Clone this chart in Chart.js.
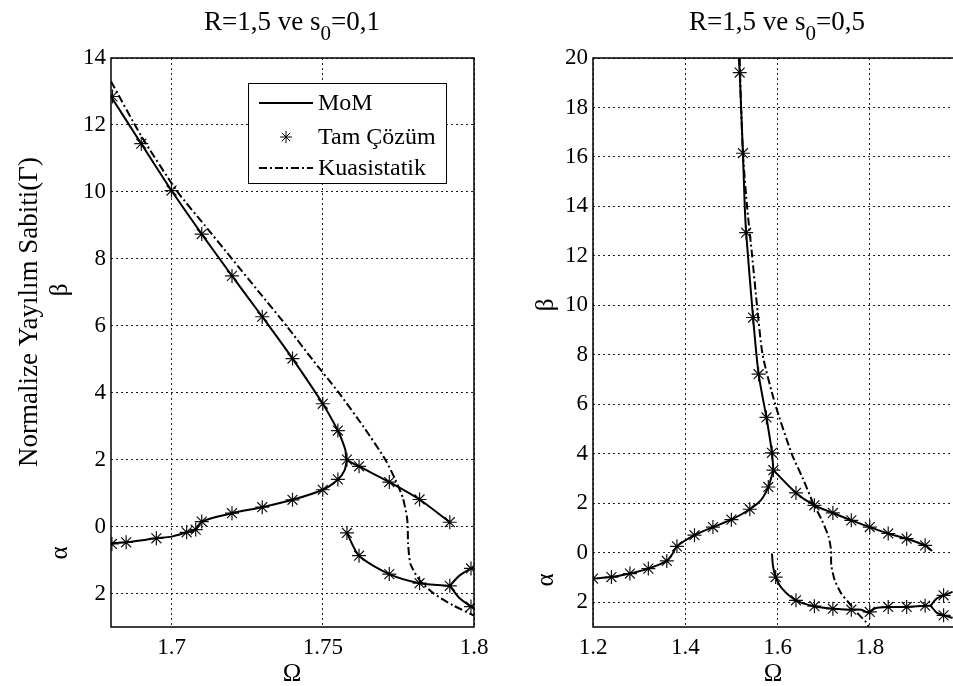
<!DOCTYPE html>
<html><head><meta charset="utf-8">
<script src="https://cdn.jsdelivr.net/npm/chart.js@4.4.1/dist/chart.umd.min.js"></script>
<style>
html,body{margin:0;padding:0;background:#fff;overflow:hidden;width:953px;height:686px;position:relative;}
.wrap{position:absolute;top:0;height:686px;}
</style></head><body>
<div class="wrap" style="left:0;width:490px"><canvas id="c1"></canvas></div>
<div class="wrap" style="left:490px;width:471px"><canvas id="c2"></canvas></div>
<script>
// ---------- Left panel: R=1,5 ve s0=0,1 ----------
const leftXTicks = [1.7, 1.75, 1.8];
const leftYTicks = [-2, 0, 2, 4, 6, 8, 10, 12, 14];
const leftMomBeta = [[1.680,12.85],[1.690,11.44],[1.700,10.04],[1.710,8.74],[1.720,7.49],[1.730,6.27],[1.740,5.02],[1.750,3.67],[1.755,2.87],[1.7564,2.57],[1.7575,2.28],[1.758,2.0],[1.762,1.80],[1.772,1.33],[1.782,0.81],[1.792,0.13]];
const leftMomAlpha = [[1.680,-0.50],[1.685,-0.47],[1.695,-0.35],[1.700,-0.30],[1.705,-0.17],[1.708,-0.09],[1.710,0.15],[1.720,0.40],[1.730,0.58],[1.740,0.80],[1.750,1.10],[1.755,1.41],[1.7572,1.68],[1.758,2.0]];
const leftMomLower = [[1.758,-0.19],[1.762,-0.87],[1.772,-1.42],[1.782,-1.69],[1.792,-1.77]];
const leftMomSplitUp = [[1.792,-1.77],[1.795,-1.48],[1.799,-1.25],[1.800,-1.22]];
const leftMomSplitDown = [[1.792,-1.77],[1.795,-2.12],[1.799,-2.39],[1.800,-2.42]];
const leftExact = [[1.6805,12.85],[1.690,11.44],[1.700,10.04],[1.710,8.74],[1.720,7.49],[1.730,6.27],[1.740,5.02],[1.750,3.67],[1.755,2.87],[1.758,2.0],[1.762,1.80],[1.772,1.33],[1.782,0.81],[1.792,0.13],
  [1.6803,-0.52],[1.685,-0.47],[1.695,-0.35],[1.705,-0.17],[1.708,-0.09],[1.710,0.15],[1.720,0.40],[1.730,0.58],[1.740,0.80],[1.750,1.10],[1.755,1.41],
  [1.758,-0.19],[1.762,-0.87],[1.772,-1.42],[1.782,-1.69],[1.792,-1.77],[1.799,-1.25],[1.799,-2.39]];
const leftQuasi = [[1.680,13.30],[1.690,11.67],[1.702,10.0],[1.711,9.0],[1.720,8.0],[1.729,7.0],[1.738,6.0],[1.7465,5.0],[1.7553,4.0],[1.7635,2.98],[1.7707,2.0],[1.774,1.40],[1.7765,0.85],[1.7778,0.30],[1.7781,0.0],[1.7782,-0.5],[1.779,-1.12],[1.782,-1.60],[1.7867,-2.0],[1.793,-2.35],[1.800,-2.66]];

// ---------- Right panel: R=1,5 ve s0=0,5 ----------
const rightXTicks = [1.2, 1.4, 1.6, 1.8];
const rightYTicks = [-2, 0, 2, 4, 6, 8, 10, 12, 14, 16, 18, 20];
const rightMomBeta = [[1.516,20.0],[1.518,19.41],[1.525,16.15],[1.529,14.0],[1.532,12.94],[1.547,9.51],[1.559,7.22],[1.576,5.47],[1.588,4.04],[1.591,3.34]];
const rightMomAlpha = [[1.200,-1.04],[1.240,-0.98],[1.280,-0.84],[1.320,-0.64],[1.360,-0.33],[1.372,-0.05],[1.382,0.26],[1.420,0.71],[1.460,1.04],[1.500,1.34],[1.540,1.76],[1.565,2.15],[1.580,2.66],[1.591,3.34]];
const rightMomRight = [[1.591,3.34],[1.640,2.42],[1.680,1.92],[1.720,1.61],[1.760,1.31],[1.800,1.04],[1.840,0.78],[1.880,0.57],[1.920,0.30],[1.935,0.07]];
const rightMomLower = [[1.588,-0.03],[1.590,-0.5],[1.596,-0.98],[1.610,-1.45],[1.640,-1.92],[1.680,-2.16],[1.720,-2.26],[1.760,-2.30],[1.782,-2.30],[1.797,-2.42],[1.812,-2.24],[1.840,-2.19],[1.880,-2.19],[1.920,-2.14],[1.932,-2.14]];
const rightMomSplitUp = [[1.932,-2.14],[1.945,-1.85],[1.960,-1.72],[1.980,-1.58]];
const rightMomSplitDown = [[1.932,-2.14],[1.945,-2.42],[1.960,-2.53],[1.980,-2.63]];
const rightExact = [[1.518,19.41],[1.525,16.15],[1.532,12.94],[1.547,9.51],[1.559,7.22],[1.576,5.47],[1.588,4.04],[1.591,3.34],
  [1.200,-1.04],[1.240,-0.98],[1.280,-0.84],[1.320,-0.64],[1.360,-0.33],[1.382,0.26],[1.420,0.71],[1.460,1.04],[1.500,1.34],[1.540,1.76],[1.580,2.66],
  [1.640,2.42],[1.680,1.92],[1.720,1.61],[1.760,1.31],[1.800,1.04],[1.840,0.78],[1.880,0.57],[1.920,0.30],
  [1.596,-0.98],[1.640,-1.92],[1.680,-2.16],[1.720,-2.26],[1.760,-2.30],[1.800,-2.39],[1.840,-2.19],[1.880,-2.19],[1.920,-2.14],[1.960,-1.72],[1.960,-2.53]];
const rightQuasi = [[1.518,20.0],[1.521,18.0],[1.5254,16.0],[1.534,14.0],[1.545,12.0],[1.5555,10.0],[1.5677,8.0],[1.595,6.0],[1.6308,4.0],[1.655,3.0],[1.6774,2.0],[1.6964,1.31],[1.711,0.64],[1.716,0.10],[1.7165,-0.50],[1.724,-1.11],[1.7383,-1.65],[1.7563,-2.06],[1.7742,-2.46],[1.792,-2.80],[1.798,-3.0]];

const legendLabels = ['MoM', 'Tam Çözüm', 'Kuasistatik'];

const FONT = '"Liberation Serif", "Times New Roman", serif';
const pts = a => a.map(p => ({x: p[0], y: p[1]}));
const solid = d => ({data: pts(d), showLine: true, borderColor: '#000', borderWidth: 2, pointRadius: 0, tension: 0.25, fill: false});
const dashdot = d => ({data: pts(d), showLine: true, borderColor: '#000', borderWidth: 2, borderDash: [8, 3, 2, 3], pointRadius: 0, tension: 0.2, fill: false});
const stars = d => ({data: pts(d), showLine: false, pointStyle: 'star', pointRadius: 7, borderColor: '#111', pointBorderWidth: 1.2, borderWidth: 1.2, backgroundColor: '#000'});

function drawSubTitle(ctx, cx, baseY, a, sub, b) {
  const big = '27px ' + FONT, small = '21px ' + FONT;
  ctx.font = big; const wa = ctx.measureText(a).width;
  ctx.font = small; const ws = ctx.measureText(sub).width;
  ctx.font = big; const wb = ctx.measureText(b).width;
  let x = cx - (wa + ws + wb) / 2;
  ctx.textAlign = 'left'; ctx.textBaseline = 'alphabetic';
  ctx.fillText(a, x, baseY); x += wa;
  ctx.font = small; ctx.fillText(sub, x, baseY + 10); x += ws;
  ctx.font = big; ctx.fillText(b, x, baseY);
}
function rotText(ctx, txt, x, y, size) {
  ctx.save(); ctx.translate(x, y); ctx.rotate(-Math.PI / 2);
  ctx.font = size + 'px ' + FONT; ctx.textAlign = 'center'; ctx.textBaseline = 'middle';
  ctx.fillText(txt, 0, 0); ctx.restore();
}

function makeChart(id, cfg) {
  const plugin = {
    id: 'deco',
    afterDraw(chart) {
      const ctx = chart.ctx, a = chart.chartArea;
      ctx.save();
      ctx.strokeStyle = '#000'; ctx.lineWidth = 1.5; ctx.setLineDash([]);
      ctx.beginPath();
      if (cfg.fullBox) { ctx.rect(a.left, a.top, a.right - a.left, a.bottom - a.top); }
      else { ctx.moveTo(a.right + 2, a.top); ctx.lineTo(a.left, a.top); ctx.lineTo(a.left, a.bottom); ctx.lineTo(a.right + 2, a.bottom); }
      ctx.stroke();
      ctx.fillStyle = '#000';
      drawSubTitle(ctx, cfg.titleX, 30, 'R=1,5 ve s', '0', cfg.titleTail);
      ctx.font = '25px ' + FONT; ctx.textAlign = 'center'; ctx.textBaseline = 'alphabetic';
      ctx.fillText('Ω', cfg.omegaX, 681);
      rotText(ctx, 'β', cfg.greekX, cfg.betaY, 25);
      rotText(ctx, 'α', cfg.greekX, cfg.alphaY, 25);
      if (cfg.yTitle) rotText(ctx, cfg.yTitle, 30, 312, 27);
      if (cfg.legend) {
        const L = cfg.legend;
        ctx.fillStyle = '#fff'; ctx.fillRect(L.x, L.y, L.w, L.h);
        ctx.strokeStyle = '#000'; ctx.lineWidth = 1; ctx.strokeRect(L.x + 0.5, L.y + 0.5, L.w, L.h);
        const rows = [L.y + 20, L.y + 54, L.y + 85];
        ctx.lineWidth = 2;
        ctx.beginPath(); ctx.moveTo(L.x + 11, rows[0]); ctx.lineTo(L.x + 65, rows[0]); ctx.stroke();
        ctx.setLineDash([8, 3, 2, 3]);
        ctx.beginPath(); ctx.moveTo(L.x + 11, rows[2]); ctx.lineTo(L.x + 65, rows[2]); ctx.stroke();
        ctx.setLineDash([]);
        ctx.lineWidth = 1; const sx = L.x + 38, sy = rows[1], r = 6;
        ctx.beginPath();
        for (let k = 0; k < 4; k++) { const ang = k * Math.PI / 4; ctx.moveTo(sx - r * Math.cos(ang), sy - r * Math.sin(ang)); ctx.lineTo(sx + r * Math.cos(ang), sy + r * Math.sin(ang)); }
        ctx.stroke();
        ctx.fillStyle = '#000'; ctx.font = '24px ' + FONT; ctx.textAlign = 'left'; ctx.textBaseline = 'middle';
        legendLabels.forEach((t, i) => ctx.fillText(t, L.x + 70, rows[i] + 1));
      }
      ctx.restore();
    }
  };
  return new Chart(document.getElementById(id), {
    type: 'scatter',
    data: {datasets: cfg.datasets},
    options: {
      responsive: true, maintainAspectRatio: false, animation: false,
      layout: {padding: cfg.padding},
      plugins: {legend: {display: false}, tooltip: {enabled: false}},
      scales: {
        x: {type: 'linear', min: cfg.xmin, max: cfg.xmax,
          afterBuildTicks: s => { s.ticks = cfg.xticks.map(v => ({value: v})); },
          afterFit: s => { s.height = 59; s.paddingLeft = 0; s.paddingRight = 0; },
          ticks: {color: '#000', font: {family: FONT, size: 23}, padding: 7, maxRotation: 0, autoSkip: false, callback: v => String(v)},
          grid: {color: '#222', lineWidth: 1, drawTicks: false},
          border: {display: false, dash: [2, 3]}},
        y: {type: 'linear', min: cfg.ymin, max: cfg.ymax,
          afterBuildTicks: s => { s.ticks = cfg.yticks.map(v => ({value: v})); },
          afterFit: s => { s.width = cfg.yWidth; s.paddingTop = 0; s.paddingBottom = 0; },
          ticks: {color: '#000', font: {family: FONT, size: 23}, padding: 5, autoSkip: false, callback: v => String(Math.abs(v))},
          grid: {color: '#222', lineWidth: 1, drawTicks: false},
          border: {display: false, dash: [2, 3]}}
      }
    },
    plugins: [plugin]
  });
}

makeChart('c1', {
  datasets: [solid(leftMomBeta), solid(leftMomAlpha), solid(leftMomLower), solid(leftMomSplitUp), solid(leftMomSplitDown), dashdot(leftQuasi), stars(leftExact)],
  xmin: 1.68, xmax: 1.8, ymin: -3, ymax: 14, xticks: leftXTicks, yticks: leftYTicks,
  yWidth: 111, padding: {top: 58, left: 0, right: 16, bottom: 0}, fullBox: true,
  titleX: 292, titleTail: '=0,1', omegaX: 292, greekX: 60, betaY: 290, alphaY: 553,
  yTitle: 'Normalize Yayılım Sabiti(Γ)',
  legend: {x: 248, y: 83, w: 198, h: 100}
});
makeChart('c2', {
  datasets: [solid(rightMomBeta), solid(rightMomAlpha), solid(rightMomRight), solid(rightMomLower), solid(rightMomSplitUp), solid(rightMomSplitDown), dashdot(rightQuasi), stars(rightExact)],
  xmin: 1.2, xmax: 1.98, ymin: -3, ymax: 20, xticks: rightXTicks, yticks: rightYTicks,
  yWidth: 103, padding: {top: 58, left: 0, right: 0, bottom: 0}, fullBox: false,
  titleX: 287, titleTail: '=0,5', omegaX: 283, greekX: 56, betaY: 305, alphaY: 580
});
</script>
</body></html>
